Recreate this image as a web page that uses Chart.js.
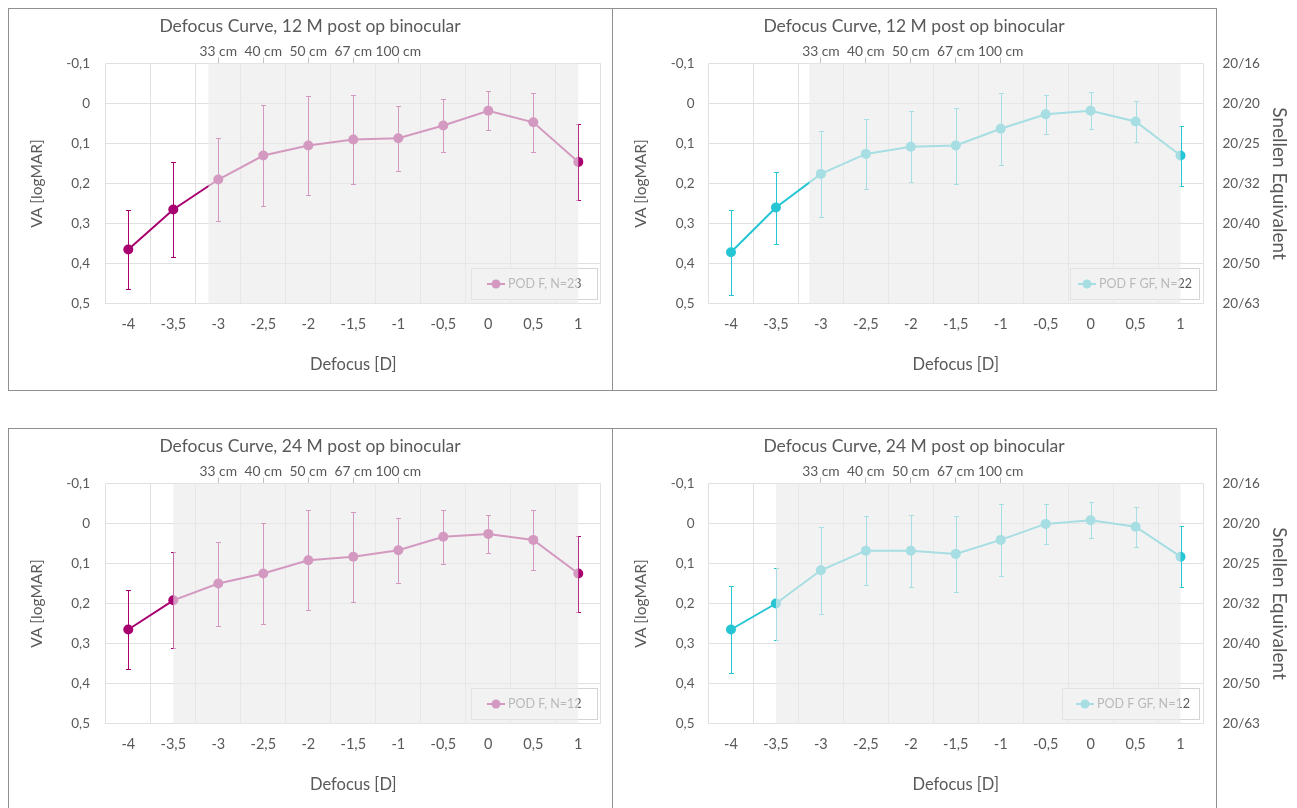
<!DOCTYPE html>
<html>
<head>
<meta charset="utf-8">
<script src="https://cdn.jsdelivr.net/npm/chart.js@4.4.0/dist/chart.umd.min.js"></script>
<style>
html,body{margin:0;padding:0;background:#fff;}
body{width:1297px;height:808px;overflow:hidden;position:relative;}
.box{position:absolute;border:1px solid #8f8f8f;box-sizing:border-box;}
.wrap{position:absolute;}
canvas{display:block;}
</style>
</head>
<body>
<div class="box" style="left:8px;top:8px;width:605px;height:383px"></div>
<div class="box" style="left:612px;top:8px;width:605px;height:383px"></div>
<div class="box" style="left:8px;top:428px;width:605px;height:400px"></div>
<div class="box" style="left:612px;top:428px;width:605px;height:400px"></div>
<div class="wrap" style="left:8px;top:8px"><canvas id="c1" width="604" height="382"></canvas></div>
<div class="wrap" style="left:612px;top:8px"><canvas id="c2" width="685" height="382"></canvas></div>
<div class="wrap" style="left:8px;top:428px"><canvas id="c3" width="604" height="382"></canvas></div>
<div class="wrap" style="left:612px;top:428px"><canvas id="c4" width="685" height="382"></canvas></div>
<script>
// ---- data ----
const defocusLabels = ['-4','-3,5','-3','-2,5','-2','-1,5','-1','-0,5','0','0,5','1'];
const defocusValues = [-4,-3.5,-3,-2.5,-2,-1.5,-1,-0.5,0,0.5,1];
const distanceLabels = ['','','33 cm','40 cm','50 cm','67 cm','100 cm','','','',''];
const yTickValues = [-0.1,0,0.1,0.2,0.3,0.4,0.5];
const yTickLabels = ['-0,1','0','0,1','0,2','0,3','0,4','0,5'];
const snellenLabels = ['20/16','20/20','20/25','20/32','20/40','20/50','20/63'];

const va12PodF   = [0.365,0.265,0.190,0.130,0.105,0.090,0.087,0.055,0.018,0.047,0.146];
const sd12PodF   = [0.098,0.118,0.104,0.126,0.125,0.112,0.081,0.067,0.049,0.074,0.094];
const va12PodFGF = [0.372,0.260,0.176,0.126,0.108,0.105,0.063,0.027,0.018,0.045,0.130];
const sd12PodFGF = [0.107,0.090,0.108,0.088,0.089,0.095,0.090,0.049,0.046,0.051,0.075];
const va24PodF   = [0.265,0.192,0.150,0.125,0.092,0.083,0.067,0.033,0.026,0.041,0.125];
const sd24PodF   = [0.098,0.120,0.105,0.126,0.125,0.113,0.082,0.067,0.048,0.074,0.095];
const va24PodFGF = [0.265,0.200,0.117,0.068,0.068,0.076,0.041,0.001,-0.008,0.008,0.083];
const sd24PodFGF = [0.108,0.090,0.109,0.086,0.090,0.094,0.089,0.050,0.045,0.050,0.076];

const shadeStart12F = -3.11, shadeStart12GF = -3.13, shadeStart24 = -3.5;

const FONT = 'Lato';
const TXT = '#595959';
const GRID = '#e0e0e0';
const MAGENTA = '#a8006f';
const CYAN = '#26c5d4';
const TITLE_BLOCK = 28;

function makeChart(id, cfg) {
  const extras = {
    id: 'extras_' + id,
    beforeDatasetsDraw(chart) {
      const ctx = chart.ctx, ys = chart.scales.y;
      const meta = chart.getDatasetMeta(0);
      ctx.save();
      ctx.strokeStyle = cfg.color; ctx.lineWidth = 1;
      meta.data.forEach((pt, i) => {
        const v = cfg.values[i], e = cfg.sd[i];
        const x = Math.round(pt.x) + 0.5;
        const yA = Math.round(ys.getPixelForValue(v - e)) + 0.5;
        const yB = Math.round(ys.getPixelForValue(v + e)) + 0.5;
        ctx.beginPath();
        ctx.moveTo(x, yA); ctx.lineTo(x, yB);
        ctx.moveTo(x - 2.5, yA); ctx.lineTo(x + 2.5, yA);
        ctx.moveTo(x - 2.5, yB); ctx.lineTo(x + 2.5, yB);
        ctx.stroke();
      });
      ctx.restore();
    },
    afterDatasetsDraw(chart) {
      const ctx = chart.ctx, ca = chart.chartArea, xs = chart.scales.x;
      ctx.save();
      // legend
      ctx.font = '12.5px ' + FONT;
      const tw = ctx.measureText(cfg.legend).width;
      const boxW = Math.round(cfg.legPadL + 18 + 3 + tw + cfg.legPadR), boxH = 31;
      const boxR = Math.round(ca.right - 4), boxB = Math.round(ca.bottom - 5);
      const boxL = boxR - boxW, boxT = boxB - boxH;
      ctx.fillStyle = '#ffffff';
      ctx.fillRect(boxL, boxT, boxW, boxH);
      ctx.strokeStyle = '#d4d4d4'; ctx.lineWidth = 1;
      ctx.strokeRect(boxL + 0.5, boxT + 0.5, boxW, boxH);
      const cy = boxT + boxH / 2 + 0.5;
      const sx = boxL + cfg.legPadL;
      ctx.strokeStyle = cfg.color; ctx.lineWidth = 2;
      ctx.beginPath(); ctx.moveTo(sx, cy); ctx.lineTo(sx + 18, cy); ctx.stroke();
      ctx.fillStyle = cfg.color;
      ctx.beginPath(); ctx.arc(sx + 9, cy, 4.5, 0, Math.PI * 2); ctx.fill();
      ctx.fillStyle = TXT; ctx.textBaseline = 'middle'; ctx.textAlign = 'left';
      ctx.fillText(cfg.legend, sx + 21, cy);
      // shaded region overlay
      const step = defocusValues[1] - defocusValues[0];
      const x0 = xs.getPixelForValue((cfg.shadeStart - defocusValues[0]) / step);
      const x1 = xs.getPixelForValue(defocusValues.length - 1);
      ctx.fillStyle = 'rgba(235,235,235,0.65)';
      ctx.fillRect(x0, ca.top, x1 - x0, ca.bottom - ca.top);
      ctx.restore();
    },
    afterDraw(chart) {
      // chart title, centred on the chart box (not on the Snellen axis)
      const ctx = chart.ctx;
      ctx.save();
      ctx.font = '17.5px ' + FONT;
      ctx.fillStyle = TXT;
      ctx.textAlign = 'center';
      ctx.textBaseline = 'middle';
      ctx.fillText(cfg.title, 302, 18.5);
      ctx.restore();
    }
  };

  const tickFont = {family: FONT, size: 14.5};
  const topFont = {family: FONT, size: 13.8};
  const yTickFont = {family: FONT, size: 13.5};

  return new Chart(document.getElementById(id), {
    type: 'line',
    data: {
      labels: defocusLabels,
      datasets: [{
        label: cfg.legend,
        data: cfg.values,
        borderColor: cfg.color,
        backgroundColor: cfg.color,
        borderWidth: 2,
        pointRadius: 5,
        pointHoverRadius: 5,
        pointBorderWidth: 0,
        tension: 0,
        fill: false
      }]
    },
    options: {
      responsive: false,
      animation: false,
      events: [],
      layout: {padding: {top: TITLE_BLOCK, right: cfg.padRight, bottom: 0, left: 0}},
      plugins: {
        legend: {display: false},
        tooltip: {enabled: false},
        title: {display: false}
      },
      scales: {
        x: {
          type: 'category', position: 'bottom', offset: true,
          grid: {offset: true, color: GRID, drawTicks: false},
          border: {display: false},
          ticks: {color: TXT, font: tickFont, padding: 12.4, maxRotation: 0, autoSkip: false},
          title: {display: true, text: 'Defocus [D]', color: TXT, font: {family: FONT, size: 16.5}, padding: {top: 0, bottom: 15.2}},
          afterFit: s => { s.height = 86.5; }
        },
        x2: {
          type: 'category', position: 'top', labels: distanceLabels, offset: true,
          grid: {drawOnChartArea: false, offset: false, tickLength: 6,
                 color: c => distanceLabels[c.index] ? '#bfbfbf' : 'rgba(0,0,0,0)'},
          border: {display: false},
          ticks: {color: TXT, font: topFont, padding: -2.6, maxRotation: 0, autoSkip: false},
          afterFit: s => { s.height = 55.5 - TITLE_BLOCK; }
        },
        y: {
          type: 'linear', position: 'left', reverse: true, min: -0.1, max: 0.5,
          afterBuildTicks: s => { s.ticks = yTickValues.map(v => ({value: v})); },
          ticks: {color: TXT, font: yTickFont, padding: cfg.yPad, callback: (v, i) => yTickLabels[i]},
          grid: {color: GRID, drawTicks: false},
          border: {display: false},
          title: {display: true, text: 'VA [logMAR]', color: TXT, font: {family: FONT, size: 15.5}, padding: {top: 19.7, bottom: 0}},
          afterFit: s => { s.width = cfg.leftW; }
        },
        y2: {
          type: 'linear', position: 'right', display: cfg.snellen, reverse: true, min: -0.1, max: 0.5,
          afterBuildTicks: s => { s.ticks = yTickValues.map(v => ({value: v})); },
          ticks: {color: TXT, font: yTickFont, padding: 19.5, callback: (v, i) => snellenLabels[i]},
          grid: {drawOnChartArea: false, drawTicks: false},
          border: {display: false},
          title: {display: true, text: 'Snellen Equivalent', color: TXT, font: {family: FONT, size: 19}, padding: {top: 6.9, bottom: 0}},
          afterFit: s => { s.width = cfg.snellen ? 94 : 0; }
        }
      }
    },
    plugins: [extras]
  });
}

makeChart('c1', {title: 'Defocus Curve, 12 M post op binocular', legend: 'POD F, N=23', values: va12PodF, sd: sd12PodF,
  color: MAGENTA, shadeStart: shadeStart12F, snellen: false, leftW: 97.8, yPad: 15.8, padRight: 11.2, legPadL: 16, legPadR: 16});
makeChart('c2', {title: 'Defocus Curve, 12 M post op binocular', legend: 'POD F GF, N=22', values: va12PodFGF, sd: sd12PodFGF,
  color: CYAN, shadeStart: shadeStart12GF, snellen: true, leftW: 96.5, yPad: 14, padRight: 0, legPadL: 8, legPadR: 7});
makeChart('c3', {title: 'Defocus Curve, 24 M post op binocular', legend: 'POD F, N=12', values: va24PodF, sd: sd24PodF,
  color: MAGENTA, shadeStart: shadeStart24, snellen: false, leftW: 97.8, yPad: 15.8, padRight: 11.2, legPadL: 16, legPadR: 16});
makeChart('c4', {title: 'Defocus Curve, 24 M post op binocular', legend: 'POD F GF, N=12', values: va24PodFGF, sd: sd24PodFGF,
  color: CYAN, shadeStart: shadeStart24, snellen: true, leftW: 96.5, yPad: 14, padRight: 0, legPadL: 14, legPadR: 9});
</script>
</body>
</html>
